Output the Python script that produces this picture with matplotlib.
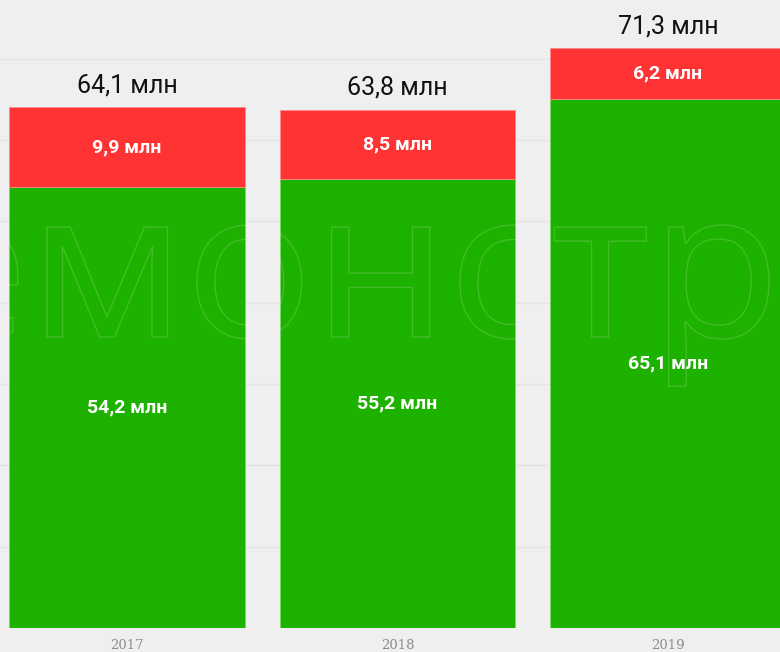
import matplotlib
matplotlib.use("Agg")
import matplotlib.pyplot as plt
from matplotlib.textpath import TextPath
from matplotlib.patches import PathPatch
from matplotlib.font_manager import FontProperties
from matplotlib.transforms import IdentityTransform, Affine2D

years = ["2017", "2018", "2019"]
green_vals = [54.2, 55.2, 65.1]
red_vals = [9.9, 8.5, 6.2]
totals = [64.1, 63.8, 71.3]
green_labels = ["54,2 млн", "55,2 млн", "65,1 млн"]
red_labels = ["9,9 млн", "8,5 млн", "6,2 млн"]
total_labels = ["64,1 млн", "63,8 млн", "71,3 млн"]

GREEN = "#1db100"
RED = "#ff3333"
BG = "#efefef"

W, H = 780, 652
fig = plt.figure(figsize=(W / 100, H / 100), dpi=100, facecolor=BG)
ax = fig.add_axes([0, 24 / H, 1, 628 / H])
ax.set_facecolor(BG)

x = list(range(len(years)))
bw = 0.87
ax.bar(x, green_vals, width=bw, color=GREEN, edgecolor="#7fd86b", linewidth=0.6, zorder=2)
ax.bar(x, red_vals, width=bw, bottom=green_vals, color=RED, edgecolor="#ff8a8a", linewidth=0.6, zorder=2)

ax.set_xlim(-0.469, 2.414)
ax.set_ylim(0, 77.24)
ax.set_yticks([10, 20, 30, 40, 50, 60, 70])
ax.yaxis.grid(True, color="#e4e4e4", linewidth=1.0, zorder=0)
ax.tick_params(axis="y", left=False, labelleft=False)
ax.set_xticks(x)
ax.set_xticklabels(years, fontsize=9.5, color="#8c8c8c", family="DejaVu Serif")
ax.tick_params(axis="x", length=0, pad=8)
for s in ax.spines.values():
    s.set_visible(False)

for i in x:
    ax.text(i, green_vals[i] / 2, green_labels[i], ha="center", va="center",
            color="white", fontsize=14, family="Roboto", weight="bold", zorder=5)
    ax.text(i, green_vals[i] + red_vals[i] / 2, red_labels[i], ha="center", va="center",
            color="white", fontsize=14, family="Roboto", weight="bold", zorder=5)
    ax.annotate(total_labels[i], (i, totals[i]), xytext=(0, 7), textcoords="offset points",
                ha="center", va="bottom", fontsize=18, family="Roboto", color="#111111", zorder=5)

# watermark
fp = FontProperties(family="Open Sans")
m_path = TextPath((0, 0), "м", size=100, prop=fp)
mh = m_path.get_extents().height
S = 100 * 110 / mh
m_ext = TextPath((0, 0), "м", size=S, prop=fp).get_extents()
dem_ext = TextPath((0, 0), "дем", size=S, prop=fp).get_extents()
mtr_ext = TextPath((0, 0), "демонстр", size=S, prop=fp).get_extents()
m_left = dem_ext.x1 - m_ext.width
sx = (769 - 47) / (mtr_ext.x1 - m_left)
full = TextPath((0, 0), "демонстрация", size=S, prop=fp)
dx = 47 - m_left * sx
dy = H - 337
tr = Affine2D().scale(sx, 1).translate(dx, dy) + IdentityTransform()
wm = PathPatch(full, transform=tr, facecolor="none", edgecolor=(1, 1, 1, 0.16), linewidth=1.0, zorder=3)
ax.add_artist(wm)

fig.savefig("out.png", dpi=100, facecolor=BG)
